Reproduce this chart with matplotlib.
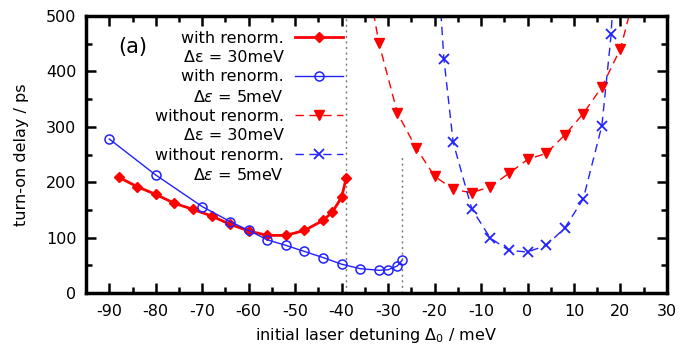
import matplotlib

matplotlib.use("Agg")
import matplotlib.pyplot as plt
from matplotlib.lines import Line2D
from matplotlib.ticker import MultipleLocator

plt.rcParams["font.family"] = ["DejaVu Sans"]
plt.rcParams["mathtext.fontset"] = "dejavusans"
plt.rcParams["axes.unicode_minus"] = False

# con renormalizacion, delta eps = 30 meV (rombos rojos)
x_ren30 = [-88, -84, -80, -76, -72, -68, -64, -60, -56, -52, -48, -44, -42, -40, -39]
y_ren30 = [209, 192, 178, 162, 151, 139, 124, 112, 104, 104, 113, 131, 146, 173, 208]

# con renormalizacion, delta eps = 5 meV (circulos azules)
x_ren5 = [-90, -80, -70, -64, -60, -56, -52, -48, -44, -40, -36, -32, -30, -28, -27]
y_ren5 = [278, 213, 156, 129, 113, 96, 86, 75, 64, 52, 44, 41, 42, 49, 59]

# sin renormalizacion, delta eps = 30 meV (triangulos rojos)
x_sin30 = [-36, -32, -28, -24, -20, -16, -12, -8, -4, 0, 4, 8, 12, 16, 20, 24]
y_sin30 = [640, 452, 325, 262, 211, 187, 181, 192, 216, 241, 252, 285, 324, 372, 441, 570]

# sin renormalizacion, delta eps = 5 meV (cruces azules)
x_sin5 = [-20, -18, -16, -12, -8, -4, 0, 4, 8, 12, 16, 18, 20]
y_sin5 = [680, 423, 272, 152, 99, 77, 74, 86, 117, 170, 302, 467, 800]

# lineas verticales punteadas
x_vline = [-39, -27]
y_vline_top = [500, 250]

ROJO = "#ff0000"
AZUL = "#2222ff"
FS = 11.5

fig = plt.figure(figsize=(6.94, 3.48), dpi=100)
ax = fig.add_axes([0.124, 0.158, 0.837, 0.796])

for xv, yt in zip(x_vline, y_vline_top):
    ax.plot([xv, xv], [0, yt], color="#777777", lw=1, ls=(0, (1.5, 2.5)), zorder=1)

ax.plot(x_ren30, y_ren30, color=ROJO, lw=2, marker="D", ms=5.5)
ax.plot(x_ren5, y_ren5, color=AZUL, lw=1, marker="o", ms=6.5, mfc="none", mew=1.1)
ax.plot(x_sin30, y_sin30, color=ROJO, lw=1, ls=(0, (6, 4)), marker="v", ms=7)
ax.plot(x_sin5, y_sin5, color=AZUL, lw=1, ls=(0, (6, 4)), marker="x", ms=7, mew=1.3)

ax.set_xlim(-95, 30)
ax.set_ylim(0, 500)
ax.xaxis.set_major_locator(MultipleLocator(10))
ax.xaxis.set_minor_locator(MultipleLocator(5))
ax.yaxis.set_major_locator(MultipleLocator(100))
ax.yaxis.set_minor_locator(MultipleLocator(50))
ax.tick_params(which="both", direction="in", top=True, right=True, labelsize=FS, width=1.8)
ax.tick_params(axis="x", pad=8)
ax.tick_params(axis="y", pad=7)
ax.tick_params(which="major", length=7)
ax.tick_params(which="minor", length=4)
for s in ax.spines.values():
    s.set_linewidth(2.5)

ax.set_xlabel("initial laser detuning $\\Delta_0$ / meV", fontsize=FS, labelpad=5)
ax.set_ylabel("turn-on delay / ps", fontsize=FS, labelpad=12)

ax.text(0.055, 0.888, "(a)", transform=ax.transAxes, fontsize=15, va="center", ha="left")

# leyenda estilo gnuplot: texto a la izquierda, simbolo a la derecha
vacio = Line2D([], [], ls="none")
handles = [
    Line2D([], [], color=ROJO, lw=2, marker="D", ms=5.5),
    vacio,
    Line2D([], [], color=AZUL, lw=1, marker="o", ms=6.5, mfc="none", mew=1.1),
    vacio,
    Line2D([], [], color=ROJO, lw=1, ls=(0, (6, 4)), marker="v", ms=7),
    vacio,
    Line2D([], [], color=AZUL, lw=1, ls=(0, (6, 4)), marker="x", ms=7, mew=1.3),
    vacio,
]
labels = [
    "with renorm.", "Δε = 30meV",
    "with renorm.", "Δ$\\varepsilon$ = 5meV",
    "without renorm.", "Δε = 30meV",
    "without renorm.", "Δ$\\varepsilon$ = 5meV",
]
leg = ax.legend(handles, labels, loc="upper right", bbox_to_anchor=(0.442, 0.947),
                frameon=False, markerfirst=False, fontsize=FS, borderpad=0,
                borderaxespad=0, labelspacing=0.27, handlelength=3.0,
                handletextpad=0.7, numpoints=1)

fig.savefig("out.png", dpi=100)
